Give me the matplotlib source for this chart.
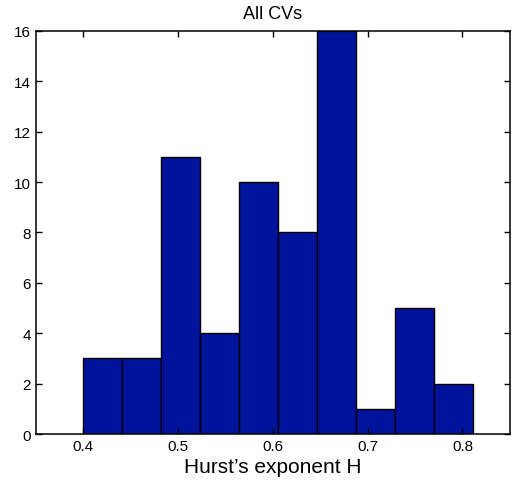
import numpy as np
import matplotlib
matplotlib.use('Agg')
import matplotlib.pyplot as plt

plt.rcParams['font.family'] = ['Liberation Sans', 'DejaVu Sans']

# histogram data
bin_start = 0.4
bin_end = 0.8116
counts = [3, 3, 11, 4, 10, 8, 16, 1, 5, 2]
x_ticks = [0.4, 0.5, 0.6, 0.7, 0.8]
y_ticks = [0, 2, 4, 6, 8, 10, 12, 14, 16]

edges = np.linspace(bin_start, bin_end, len(counts) + 1)

fig = plt.figure(figsize=(5.14, 4.81), dpi=100)
ax = fig.add_axes([0.070, 0.0956, 0.922, 0.838])

ax.bar(edges[:-1], counts, width=np.diff(edges), align='edge',
       color='#00139c', edgecolor='black', linewidth=1.0)

ax.set_xlim(0.35, 0.85)
ax.set_ylim(0, 16)
ax.set_xticks(x_ticks)
ax.set_xticklabels(['0.4', '0.5', '0.6', '0.7', '0.8'])
ax.set_yticks(y_ticks)
ax.tick_params(direction='in', top=True, right=True, labelsize=11, length=4, width=1)
for s in ax.spines.values():
    s.set_linewidth(1.1)

ax.set_title('All CVs', fontsize=13, pad=9)
ax.set_xlabel('Hurst\u2019s exponent H', fontsize=15, labelpad=3)

fig.savefig('out.png', dpi=100)
